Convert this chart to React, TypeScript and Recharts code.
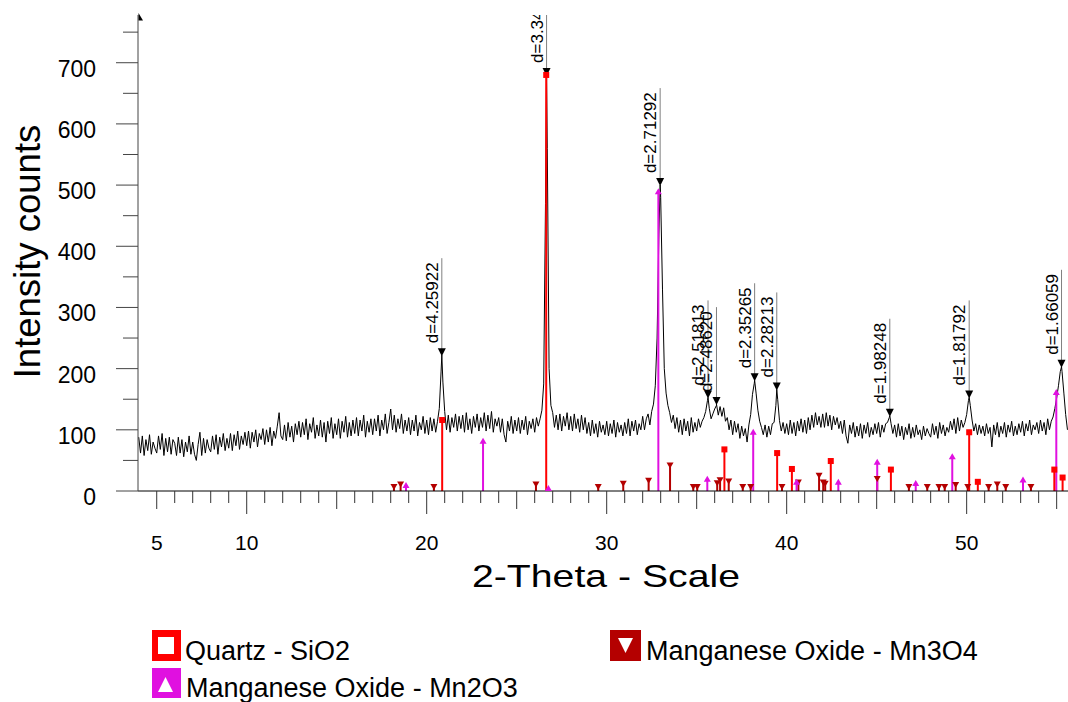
import React from 'react';
import { ComposedChart, Line, XAxis, YAxis, Scatter, ReferenceLine } from 'recharts';

const FONT = '"Liberation Sans", Arial, Helvetica, sans-serif';
const PLOT_TOP = 15;

// ---- measured scan (2-theta grid step 0.1 deg) ----
const SCAN_STEP = 0.1;
const scanA_start = 4.0;
const scanA = [
  88, 62, 90, 58, 84, 66, 92, 60, 80, 70,
  62, 90, 68, 94, 58, 86, 64, 88, 60, 84,
  78, 58, 88, 62, 84, 56, 80, 64, 90, 60,
  80, 60, 50, 76, 96, 58, 86, 62, 84, 70,
  64, 90, 68, 92, 60, 88, 72, 94, 66, 86,
  70, 94, 66, 92, 74, 98, 68, 90, 76, 96,
  74, 98, 70, 96, 80, 100, 72, 94, 84, 102,
  76, 100, 80, 104, 74, 98, 86, 106, 128, 90,
  84, 108, 82, 112, 88, 106, 80, 110, 92, 114,
  88, 112, 92, 118, 84, 110, 96, 120, 86, 108,
];
const scanB_start = 14.0;
const scanB = [
  90, 116, 88, 112, 80, 114, 94, 120, 86, 110,
  92, 118, 86, 114, 96, 122, 88, 112, 90, 116,
  94, 120, 90, 116, 98, 124, 88, 114, 96, 118,
  92, 118, 98, 124, 90, 116, 100, 126, 94, 112,
  134, 100, 124, 96, 118, 102, 126, 94, 116, 98,
  120, 92, 116, 98, 124, 90, 112, 100, 122, 94,
  116, 92, 120, 98, 118, 96, 114, 135, 196, 178,
  130, 100, 124, 96, 120, 104, 126, 98, 122, 102,
  124, 96, 128, 100, 118, 94, 122, 104, 126, 98,
  120, 104, 128, 98, 124, 102, 130, 96, 118, 106,
];
const scanC_start = 24.0;
const scanC = [
  120, 96, 118, 92, 80, 114, 98, 122, 94, 116,
  98, 120, 94, 116, 100, 122, 92, 114, 102, 118,
  96, 120, 106, 118, 132, 175, 470, 560, 200, 140,
  128, 104, 124, 100, 126, 98, 122, 106, 128, 100,
  122, 98, 126, 102, 118, 96, 124, 100, 120, 94,
  112, 90, 116, 94, 110, 88, 114, 96, 108, 92,
  114, 90, 110, 94, 116, 88, 112, 96, 108, 90,
  112, 94, 118, 90, 114, 98, 116, 92, 110, 100,
  122, 100, 118, 126, 108, 130, 142, 172, 250, 420,
  480, 330, 200, 160, 140, 128, 112, 124, 102, 120,
];
const scanD_start = 34.0;
const scanD = [
  96, 116, 92, 118, 98, 114, 90, 120, 96, 112,
  98, 118, 104, 114, 120, 130, 148, 135, 118, 126,
  134, 140, 124, 138, 122, 136, 114, 120, 100, 116,
  92, 114, 96, 110, 86, 106, 90, 102, 80, 108,
  125, 158, 176, 160, 132, 114, 104, 92, 108, 88,
  106, 92, 110, 112, 140, 150, 115, 98, 112, 94,
  110, 92, 116, 94, 112, 90, 114, 98, 118, 96,
  116, 94, 120, 100, 124, 104, 128, 108, 122, 104,
  126, 104, 128, 106, 124, 100, 122, 108, 120, 102,
  114, 94, 116, 90, 78, 108, 94, 112, 88, 106,
];
const scanE_start = 44.0;
const scanE = [
  90, 110, 86, 108, 94, 112, 88, 104, 92, 110,
  94, 112, 88, 108, 96, 110, 112, 120, 110, 94,
  108, 88, 110, 90, 106, 84, 104, 92, 110, 86,
  104, 88, 108, 92, 100, 84, 106, 90, 102, 94,
  88, 110, 92, 106, 86, 112, 94, 108, 90, 104,
  96, 114, 100, 118, 94, 120, 98, 116, 104, 112,
  125, 148, 140, 116, 98, 110, 92, 108, 94, 106,
  90, 110, 94, 104, 72, 108, 92, 112, 88, 106,
  94, 112, 88, 108, 96, 114, 90, 106, 92, 110,
  96, 114, 90, 110, 98, 116, 92, 108, 100, 112,
  94, 116, 98, 112, 92, 118, 100, 114, 121, 135,
  152, 172, 195, 195, 160, 125, 100,
];

// ---- identified peaks (apex positions and labels) ----
const peakTheta = [20.84, 26.66, 32.97, 35.63, 36.1, 38.22, 39.45, 45.73, 50.14, 55.27];
const peakCounts = [222, 680, 500, 153, 142, 181, 166, 123, 153, 203];
const peakLabels = ['d=4.25922', 'd=3.34349', 'd=2.71292', 'd=2.51813', 'd=2.48620', 'd=2.35265', 'd=2.28213', 'd=1.98248', 'd=1.81792', 'd=1.66059'];

// ---- reference patterns (stick positions / heights) ----
const quartzTheta = [20.86, 26.64, 36.54, 39.47, 40.29, 42.45, 45.79, 50.14, 50.62, 54.87, 55.33];
const quartzCounts = [116, 680, 68, 62, 36, 49, 35, 96, 15, 35, 22];

const mn3o4Theta = [18.18, 18.55, 20.4, 26.07, 29.53, 30.92, 32.33, 33.52, 34.81, 35.03, 36.14, 36.3, 36.78, 37.56, 38.0, 39.74, 40.65, 41.8, 42.03, 42.14, 45.03, 46.79, 47.81, 48.46, 48.78, 49.39, 50.06, 51.22, 51.7, 52.17, 53.57];
const mn3o4Counts = [10, 14, 10, 14, 10, 15, 20, 45, 10, 10, 16, 21, 19, 10, 10, 10, 17, 28, 17, 15, 23, 10, 10, 10, 10, 13, 10, 10, 14, 10, 10];

const mn2o3Theta = [18.85, 23.13, 26.76, 32.87, 35.59, 38.14, 40.55, 42.87, 45.03, 47.17, 49.2, 53.13, 54.98];
const mn2o3Counts = [10, 82, 5, 490, 20, 97, 15, 15, 48, 13, 57, 19, 162];

// ---- axes ----
const xTickValues = [5, 6, 7, 8, 9, 10, 11, 12, 13, 14, 15, 16, 17, 18, 19, 20, 21, 22, 23, 24, 25, 26, 27, 28, 29, 30, 31, 32, 33, 34, 35, 36, 37, 38, 39, 40, 41, 42, 43, 44, 45, 46, 47, 48, 49, 50, 51, 52, 53, 54, 55];
const xLabelValues = [5, 10, 20, 30, 40, 50];
const yTickValues = [0, 50, 100, 150, 200, 250, 300, 350, 400, 450, 500, 550, 600, 650, 700, 750];
const X_DOMAIN = [3.96, 55.63];
const Y_DOMAIN = [0, 778];

const COL_QUARTZ = '#ff0000';
const COL_MN3O4 = '#b40000';
const COL_MN2O3 = '#e010e0';

function segment(start: number, vals: number[]) {
  return vals.map((v, i) => ({ t: Math.round((start + i * SCAN_STEP) * 1000) / 1000, v }));
}

const trace = [
  ...segment(scanA_start, scanA),
  ...segment(scanB_start, scanB),
  ...segment(scanC_start, scanC),
  ...segment(scanD_start, scanD),
  ...segment(scanE_start, scanE),
  ...peakTheta.map((t, i) => ({ t, v: peakCounts[i] })),
].sort((a, b) => a.t - b.t);

const peakData = peakTheta.map((t, i) => ({ t, v: peakCounts[i], label: peakLabels[i] }));
const quartzData = quartzTheta.map((t, i) => ({ t, v: quartzCounts[i] }));
const mn3o4Data = mn3o4Theta.map((t, i) => ({ t, v: mn3o4Counts[i] }));
const mn2o3Data = mn2o3Theta.map((t, i) => ({ t, v: mn2o3Counts[i] }));

const XTick = (props: any) => {
  const { x, y, payload } = props;
  const v = payload.value;
  const len = v % 10 === 0 ? 23 : v % 5 === 0 ? 18 : 12;
  return (
    <g>
      <line x1={x} x2={x} y1={y} y2={y + len} stroke="#333" strokeWidth={1} />
      {xLabelValues.includes(v) && (
        <text x={x} y={y + 59} textAnchor="middle" fontSize={21} fontFamily={FONT} fill="#000">{v}</text>
      )}
    </g>
  );
};

const YTick = (props: any) => {
  const { x, y, payload } = props;
  const v = payload.value;
  const major = v % 100 === 0;
  return (
    <g>
      <line x1={x - (major ? 22 : 15)} x2={x} y1={y} y2={y} stroke="#444" strokeWidth={1} />
      {major && (
        <text x={x - 42} y={y + 14} textAnchor="end" fontSize={23} fontFamily={FONT} fill="#000">{v}</text>
      )}
    </g>
  );
};

const PeakShape = (props: any) => {
  const { cx, cy, payload, index } = props;
  if (cx == null || cy == null) return <g />;
  const id = `pclip${index ?? Math.round(cx)}`;
  return (
    <g>
      <defs>
        <clipPath id={id}>
          <rect x={0} y={PLOT_TOP} width={1068} height={700} />
        </clipPath>
      </defs>
      <g clipPath={`url(#${id})`}>
        <line x1={cx} x2={cx} y1={cy - 97} y2={cy - 6} stroke="#808080" strokeWidth={1} />
        <text
          transform={`translate(${cx - 4},${cy - 12}) rotate(-90)`}
          fontSize={17}
          fontFamily={FONT}
          fill="#000"
        >
          {payload.label}
        </text>
      </g>
      <polygon points={`${cx - 4},${cy - 7} ${cx + 4},${cy - 7} ${cx},${cy + 1}`} fill="#000" />
    </g>
  );
};

const SquareMark = (props: any) => {
  const { cx, cy } = props;
  if (cx == null) return <g />;
  return <rect x={cx - 3} y={cy - 3} width={6} height={6} fill={COL_QUARTZ} />;
};
const DownMark = (props: any) => {
  const { cx, cy } = props;
  if (cx == null) return <g />;
  return <polygon points={`${cx - 3.5},${cy - 1} ${cx + 3.5},${cy - 1} ${cx},${cy + 5}`} fill={COL_MN3O4} />;
};
const UpMark = (props: any) => {
  const { cx, cy } = props;
  if (cx == null) return <g />;
  return <polygon points={`${cx - 3.5},${cy + 3} ${cx + 3.5},${cy + 3} ${cx},${cy - 3}`} fill={COL_MN2O3} />;
};

export default function App() {
  return (
    <div style={{ position: 'absolute', left: 0, top: 0, width: 1068, height: 702, background: '#fff' }}>
      <ComposedChart width={1068} height={702} data={trace} margin={{ top: PLOT_TOP, right: 0, bottom: 131, left: 0 }}>
        <XAxis
          type="number"
          dataKey="t"
          domain={X_DOMAIN}
          allowDataOverflow
          ticks={xTickValues}
          interval={0}
          tick={<XTick />}
          tickLine={false}
          tickSize={0}
          tickMargin={0}
          height={80}
          axisLine={{ stroke: '#000', strokeWidth: 1 }}
        />
        <YAxis
          type="number"
          domain={Y_DOMAIN}
          allowDataOverflow
          ticks={yTickValues}
          interval={0}
          tick={<YTick />}
          tickLine={false}
          tickSize={0}
          tickMargin={0}
          width={138}
          axisLine={{ stroke: '#444', strokeWidth: 1 }}
        />
        <Line
          dataKey="v"
          type="linear"
          stroke="#000"
          strokeWidth={1}
          dot={false}
          activeDot={false}
          isAnimationActive={false}
        />
        <Scatter data={peakData} dataKey="v" shape={<PeakShape />} isAnimationActive={false} />
        {mn3o4Data.map((d, i) => (
          <ReferenceLine key={`m3${i}`} segment={[{ x: d.t, y: 0 }, { x: d.t, y: d.v }]} stroke={COL_MN3O4} strokeWidth={2} />
        ))}
        {mn2o3Data.map((d, i) => (
          <ReferenceLine key={`m2${i}`} segment={[{ x: d.t, y: 0 }, { x: d.t, y: d.v }]} stroke={COL_MN2O3} strokeWidth={2} />
        ))}
        {quartzData.map((d, i) => (
          <ReferenceLine key={`q${i}`} segment={[{ x: d.t, y: 0 }, { x: d.t, y: d.v }]} stroke={COL_QUARTZ} strokeWidth={2} />
        ))}
        <Scatter data={mn3o4Data} dataKey="v" shape={<DownMark />} isAnimationActive={false} />
        <Scatter data={mn2o3Data} dataKey="v" shape={<UpMark />} isAnimationActive={false} />
        <Scatter data={quartzData} dataKey="v" shape={<SquareMark />} isAnimationActive={false} />
      </ComposedChart>
      <svg width={1068} height={702} style={{ position: 'absolute', left: 0, top: 0, pointerEvents: 'none' }}>
        <polygon points="138.5,13 143,20.5 138.5,20.5" fill="#000" />
        <text transform="translate(39.5,251.5) rotate(-90)" textAnchor="middle" fontSize={36.5} fontFamily={FONT} fill="#000">
          Intensity counts
        </text>
        <text x={606} y={587} textAnchor="middle" fontSize={32} fontFamily={FONT} fill="#000" textLength={268} lengthAdjust="spacingAndGlyphs">
          2-Theta - Scale
        </text>
        {/* legend */}
        <rect x={152} y={630} width={29} height={31} fill={COL_QUARTZ} />
        <rect x={158} y={637} width={16} height={17} fill="#fff" />
        <text x={185} y={660} fontSize={27} fontFamily={FONT} fill="#000">Quartz - SiO2</text>
        <rect x={610} y={630} width={31} height={31} fill={COL_MN3O4} />
        <polygon points="618,638 633,638 625.5,653" fill="#fff" />
        <text x={646} y={660} fontSize={27} fontFamily={FONT} fill="#000">Manganese Oxide - Mn3O4</text>
        <rect x={152} y={668} width={29} height={30} fill={COL_MN2O3} />
        <polygon points="158,692 173,692 165.5,677" fill="#fff" />
        <text x={186} y={697} fontSize={27} fontFamily={FONT} fill="#000">Manganese Oxide - Mn2O3</text>
      </svg>
    </div>
  );
}
